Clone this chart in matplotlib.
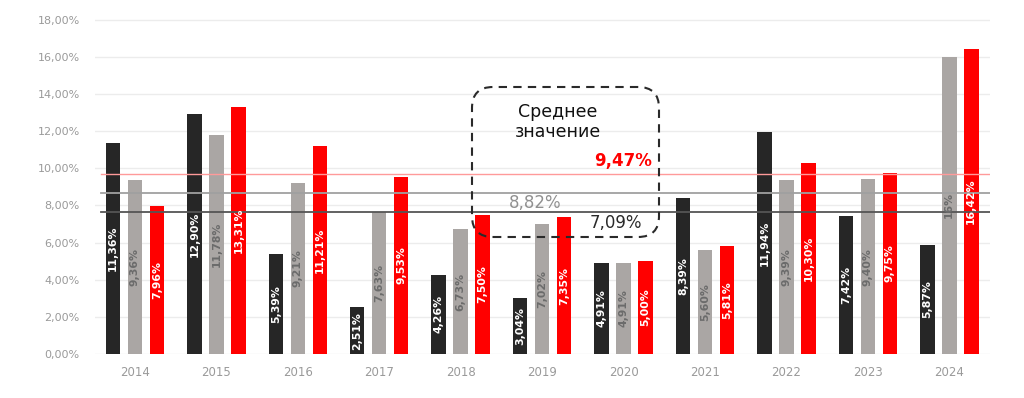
import matplotlib
matplotlib.use("Agg")
import matplotlib.pyplot as plt
from matplotlib.patches import FancyBboxPatch
import numpy as np

plt.rcParams['font.family'] = ['DejaVu Sans']

years = ["2014", "2015", "2016", "2017", "2018", "2019", "2020", "2021", "2022", "2023", "2024"]
series_black = [11.36, 12.90, 5.39, 2.51, 4.26, 3.04, 4.91, 8.39, 11.94, 7.42, 5.87]
series_gray = [9.36, 11.78, 9.21, 7.63, 6.73, 7.02, 4.91, 5.60, 9.39, 9.40, 16.0]
series_red = [7.96, 13.31, 11.21, 9.53, 7.50, 7.35, 5.00, 5.81, 10.30, 9.75, 16.42]
labels_black = ["11,36%", "12,90%", "5,39%", "2,51%", "4,26%", "3,04%", "4,91%", "8,39%", "11,94%", "7,42%", "5,87%"]
labels_gray = ["9,36%", "11,78%", "9,21%", "7,63%", "6,73%", "7,02%", "4,91%", "5,60%", "9,39%", "9,40%", "16%"]
labels_red = ["7,96%", "13,31%", "11,21%", "9,53%", "7,50%", "7,35%", "5,00%", "5,81%", "10,30%", "9,75%", "16,42%"]
yticks = [0, 2, 4, 6, 8, 10, 12, 14, 16, 18]
ytick_labels = ["0,00%", "2,00%", "4,00%", "6,00%", "8,00%", "10,00%", "12,00%", "14,00%", "16,00%", "18,00%"]
# mean lines (as drawn) and their labels
mean_red_line, mean_gray_line, mean_black_line = 9.69, 8.67, 7.66
mean_title = "Среднее\nзначение"
mean_red_label, mean_gray_label, mean_black_label = "9,47%", "8,82%", "7,09%"

W, H = 1024, 398
fig = plt.figure(figsize=(W / 100, H / 100), dpi=100)
ax_left, ax_right = 95 / W, 990 / W
y0_px = 354
px_per = 18.58
ytop = 18.05
ax_bottom = 1 - y0_px / H
ax_height = ytop * px_per / H
ax = fig.add_axes([ax_left, ax_bottom, ax_right - ax_left, ax_height])

c_black = "#262626"
c_gray = "#aaa6a4"
c_red = "#ff0000"

x = np.arange(len(years))
off = 0.27
bw = 0.178

for yt in yticks:
    ax.axhline(yt, color="#ececec", lw=1.0, zorder=0)

bars_b = ax.bar(x - off, series_black, width=bw, color=c_black, zorder=2)
bars_g = ax.bar(x, series_gray, width=bw, color=c_gray, zorder=2)
bars_r = ax.bar(x + off, series_red, width=bw, color=c_red, zorder=2)

for bars, labs, col in [(bars_b, labels_black, "white"), (bars_g, labels_gray, "#6b6b6b"), (bars_r, labels_red, "white")]:
    for b, lab in zip(bars, labs):
        ax.text(b.get_x() + b.get_width() / 2, b.get_height() / 2, lab, rotation=90,
                ha="center", va="center", color=col, fontsize=7.8, fontweight="bold", zorder=4)

xmin, xmax = -0.49, 10.5
line_start = (101 - 95) / (990 - 95)
ax.axhline(mean_red_line, xmin=line_start, color="#ff9a9a", lw=1.0, zorder=3)
ax.axhline(mean_gray_line, xmin=line_start, color="#a0a0a0", lw=1.3, zorder=3)
ax.axhline(mean_black_line, xmin=line_start, color="#555555", lw=1.3, zorder=3)

ax.set_xlim(xmin, xmax)
ax.set_ylim(0, ytop)
ax.set_yticks(yticks)
ax.set_yticklabels(ytick_labels)
ax.set_xticks(x)
ax.set_xticklabels(years)
ax.tick_params(axis="y", length=0, colors="#9a9a9a", labelsize=8, pad=11)
ax.tick_params(axis="x", length=0, colors="#9a9a9a", labelsize=8.5, pad=9)
for s in ax.spines.values():
    s.set_visible(False)

# dashed rounded box (in figure coords)
bx0, bx1 = 472 / W, 659 / W
by_top, by_bot = 1 - 87 / H, 1 - 237 / H
box = FancyBboxPatch((bx0, by_bot), bx1 - bx0, by_top - by_bot,
                     boxstyle="round,pad=0,rounding_size=0.0205", mutation_aspect=W / H,
                     transform=fig.transFigure, fill=False, edgecolor="#2a2a2a",
                     linestyle=(0, (4, 3)), lw=1.5, zorder=5)
fig.patches.append(box)

fig.text(558 / W, 1 - 122 / H, mean_title, ha="center", va="center", fontsize=12.5,
         color="#111111", linespacing=1.2)
fig.text(652 / W, 1 - 161 / H, mean_red_label, ha="right", va="center", fontsize=12,
         color=c_red, fontweight="bold")
fig.text(535 / W, 1 - 203 / H, mean_gray_label, ha="center", va="center", fontsize=12,
         color="#909090")
fig.text(642 / W, 1 - 223 / H, mean_black_label, ha="right", va="center", fontsize=12,
         color="#2a2a2a")

fig.savefig("out.png", dpi=100, facecolor="white")
